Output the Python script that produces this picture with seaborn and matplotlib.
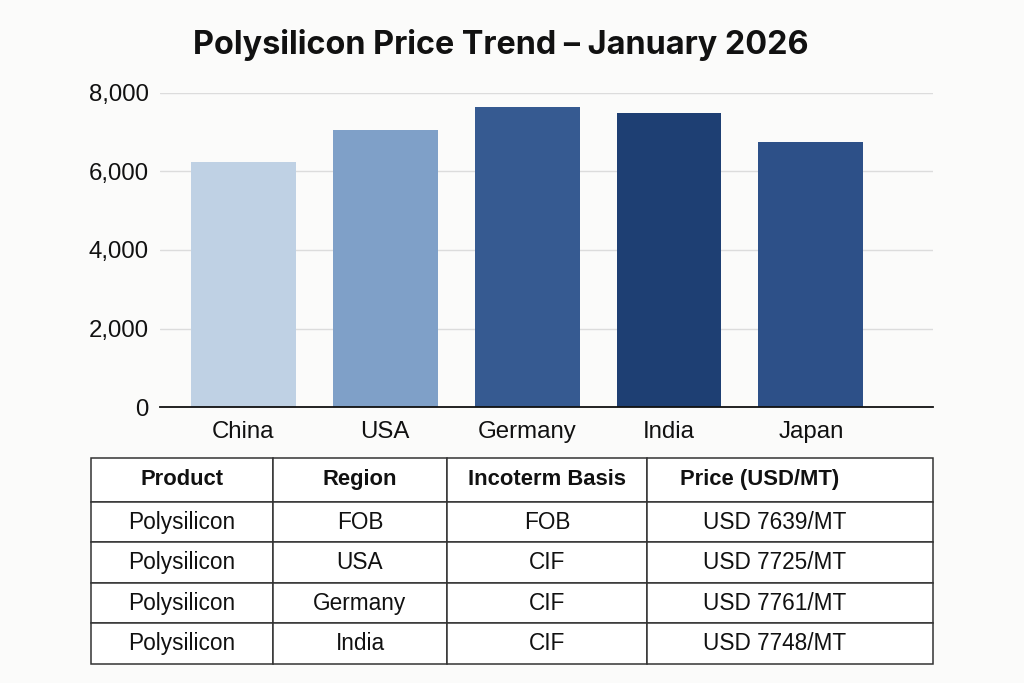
import matplotlib
matplotlib.use("Agg")
import matplotlib.pyplot as plt
import seaborn as sns
import pandas as pd

# chart data
regions = ["China", "USA", "Germany", "India", "Japan"]
prices = [6250, 7050, 7650, 7500, 6750]
bar_colors = ["#bfd1e4", "#7fa0c8", "#365a91", "#1e3f73", "#2d5088"]

# table data
table_header = ["Product", "Region", "Incoterm Basis", "Price (USD/MT)"]
table_product = ["Polysilicon", "Polysilicon", "Polysilicon", "Polysilicon"]
table_region = ["FOB", "USA", "Germany", "India"]
table_basis = ["FOB", "CIF", "CIF", "CIF"]
table_price = ["USD 7639/MT", "USD 7725/MT", "USD 7761/MT", "USD 7748/MT"]

sns.set_theme(style="white")
plt.rcParams["font.family"] = ["Liberation Sans", "DejaVu Sans"]

bg = "#fbfbfa"
fig = plt.figure(figsize=(10.24, 6.83), dpi=100, facecolor=bg)

# ---- bar chart ----
ax = fig.add_axes([0.156, 0.404, 0.755, 0.46], facecolor=bg)
df = pd.DataFrame({"region": regions, "price": prices})
sns.barplot(data=df, x="region", y="price", hue="region", palette=bar_colors,
            legend=False, width=0.74, saturation=1, linewidth=0, ax=ax)

ax.set_ylim(0, 8000)
ax.set_xlim(-0.59, 4.86)
ax.set_yticks([0, 2000, 4000, 6000, 8000])
ax.set_yticklabels(["0", "2,000", "4,000", "6,000", "8,000"])
ax.set_xlabel("")
ax.set_ylabel("")
ax.yaxis.grid(True, color="#dcdcdc", linewidth=1)
ax.set_axisbelow(True)
for s in ["top", "right", "left"]:
    ax.spines[s].set_visible(False)
ax.spines["bottom"].set_color("#111111")
ax.spines["bottom"].set_linewidth(1.3)
ax.tick_params(axis="both", length=0, labelsize=17.3, labelcolor="#111111")
ax.tick_params(axis="y", pad=8)
ax.tick_params(axis="x", pad=10)

fig.text(0.489, 0.934, "Polysilicon Price Trend \u2013 January 2026",
         ha="center", va="center", fontsize=23.3, fontweight="bold",
         family=["Inter", "DejaVu Sans"], color="#111111")

# ---- table ----
tax = fig.add_axes([91 / 1024, 1 - 664 / 683, 842 / 1024, 206 / 683])
tax.axis("off")
rows = [list(r) for r in zip(table_product, table_region, table_basis, table_price)]
tbl = tax.table(cellText=rows, colLabels=table_header, cellLoc="center",
                colWidths=[182, 174, 200, 286], bbox=[0, 0, 1, 1])
tbl.auto_set_font_size(False)
for (r, c), cell in tbl.get_celld().items():
    cell.set_edgecolor("#333333")
    cell.set_linewidth(1.1)
    cell.set_facecolor("white")
    cell.get_text().set_color("#111111")
    if r == 0:
        cell.get_text().set_fontweight("bold")
        cell.get_text().set_fontsize(15.8)
        cell.set_height(cell.get_height() * 1.08)
    else:
        cell.get_text().set_fontsize(16.3)
    if c == 3:
        # price column text sits left of centre in the reference
        cell._loc = "left"
        cell.get_text().set_horizontalalignment("left")
        cell.PAD = 0.115 if r == 0 else 0.196

fig.savefig("out.png", dpi=100, facecolor=bg)
